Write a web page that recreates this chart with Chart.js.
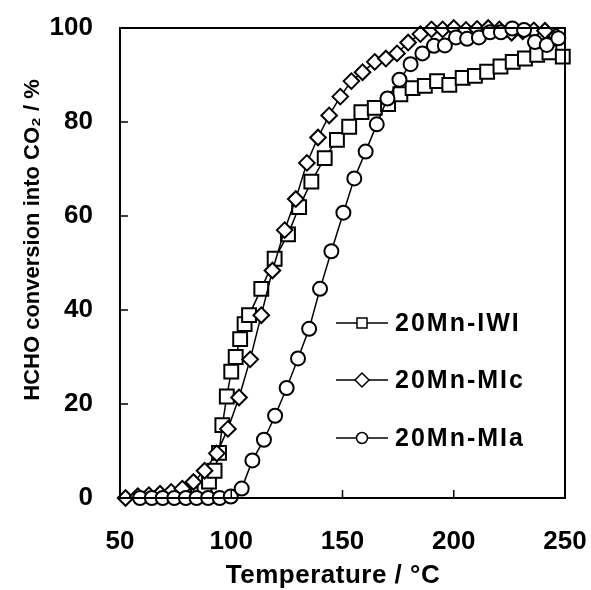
<!DOCTYPE html>
<html>
<head>
<meta charset="utf-8">
<script src="https://cdn.jsdelivr.net/npm/chart.js@4.4.1/dist/chart.umd.min.js"></script>
<style>
  html, body { margin: 0; padding: 0; background: #fff; }
  #wrap { width: 591px; height: 590px; }
</style>
</head>
<body>
<div id="wrap"><canvas id="chart" width="591" height="590"></canvas></div>
<script>
// 20Mn-IWI (squares)
const iwiTemp = [85, 88, 90, 92.5, 94.5, 96, 98, 100, 102, 104, 106, 108, 113.5, 119.5, 125.5, 130.5, 136, 142, 147.5, 153, 158.5, 164.5, 170.5, 176, 181.5, 187, 192.5, 198, 204, 209.5, 215, 221, 226.5, 232, 237.5, 243, 249];
const iwiConv = [0.8, 1.8, 3.5, 5.8, 9.6, 15.5, 21.6, 26.9, 30, 33.8, 37, 38.9, 44.5, 50.9, 56.1, 61.9, 67.3, 72.3, 76.2, 79, 82.1, 83, 83.8, 85.9, 87.2, 87.7, 88.7, 87.9, 89.4, 89.8, 90.7, 91.8, 92.8, 93.5, 94.3, 94.8, 93.9];

// 20Mn-MIc (diamonds)
const micTemp = [52.5, 58, 63, 68, 73, 78, 83, 88, 93.5, 98.5, 103.5, 108.5, 113.5, 118.5, 124, 129, 134, 139, 144, 149, 154, 159, 164.5, 169.5, 174.5, 179.5, 185, 190, 195, 200, 205.5, 210.5, 215.5, 220.5, 226, 231, 236, 241, 246];
const micConv = [0, 0.4, 0.6, 0.9, 1.3, 2, 3.4, 5.8, 9.5, 14.7, 21.4, 29.5, 38.9, 48.4, 57, 63.6, 71.3, 76.7, 81.4, 85.4, 88.7, 90.6, 92.8, 93.5, 94.6, 96.9, 98.7, 99.7, 99.7, 100, 99.6, 99.8, 100, 99.7, 99, 99.3, 99.5, 99.4, 98.3];

// 20Mn-MIa (circles)
const miaTemp = [59, 64.3, 69.2, 74.4, 79.6, 84.4, 89.6, 94.8, 99.8, 104.7, 109.5, 114.7, 119.7, 124.9, 130, 135, 139.9, 145, 150.4, 155.3, 160.4, 165.4, 170.2, 175.6, 180.6, 185.9, 191.1, 196, 201, 206, 211.3, 216.3, 221.2, 226.3, 231.6, 236.5, 241.8, 247];
const miaConv = [0, 0, 0, 0, 0, 0, 0, 0, 0.3, 2, 8, 12.4, 17.5, 23.4, 29.7, 36, 44.5, 52.5, 60.7, 68, 73.7, 79.5, 85, 89, 92.3, 94.6, 96.2, 96.3, 98, 97.7, 98, 99.1, 99.1, 99.9, 99.6, 97, 96.4, 97.8];

const seriesNames = ['20Mn-IWI', '20Mn-MIc', '20Mn-MIa'];
const xTicks = [50, 100, 150, 200, 250];
const yTicks = [0, 20, 40, 60, 80, 100];
const xTitle = 'Temperature / \u00b0C';
const yTitle = 'HCHO conversion into CO\u2082 / %';

const FONT = '"Liberation Sans", Arial, sans-serif';

function pairs(xs, ys) {
    return xs.map((x, i) => ({ x: x, y: ys[i] }));
}

function makeSet(label, xs, ys, style, radius) {
    return {
        label: label,
        data: pairs(xs, ys),
        borderColor: '#000',
        borderWidth: 1.5,
        pointStyle: style,
        pointRadius: radius,
        pointBorderWidth: 2,
        pointBorderColor: '#000',
        pointBackgroundColor: '#fff',
        showLine: true,
        fill: false,
        tension: 0,
        clip: false
    };
}

// inward tick marks, closed frame, axis titles and legend inside the plot
const framePlugin = {
    id: 'frame',
    afterDatasetsDraw(chart) {
        const ctx = chart.ctx;
        const a = chart.chartArea;
        const xs = chart.scales.x;
        const ys = chart.scales.y;
        ctx.save();
        ctx.strokeStyle = '#000';
        ctx.lineWidth = 2;
        ctx.strokeRect(a.left, a.top, a.right - a.left, a.bottom - a.top);

        ctx.lineWidth = 1.5;
        ctx.beginPath();
        xTicks.forEach(v => {
            const px = xs.getPixelForValue(v);
            ctx.moveTo(px, a.bottom);
            ctx.lineTo(px, a.bottom - 8);
        });
        yTicks.forEach(v => {
            const py = ys.getPixelForValue(v);
            ctx.moveTo(a.left, py);
            ctx.lineTo(a.left + 8, py);
        });
        ctx.stroke();

        // axis titles
        ctx.fillStyle = '#000';
        ctx.textAlign = 'center';
        ctx.textBaseline = 'middle';
        ctx.font = 'bold 26px ' + FONT;
        ctx.letterSpacing = '0.5px';
        ctx.fillText(xTitle, 333, 576);
        ctx.letterSpacing = '0px';
        ctx.save();
        ctx.translate(33, 240);
        ctx.rotate(-Math.PI / 2);
        ctx.font = 'bold 22px ' + FONT;
        ctx.fillText(yTitle, 0, 0);
        ctx.restore();

        // legend
        const items = [
            { name: seriesNames[0], shape: 'rect', y: 323 },
            { name: seriesNames[1], shape: 'diamond', y: 380 },
            { name: seriesNames[2], shape: 'circle', y: 438 }
        ];
        ctx.font = 'bold 25px ' + FONT;
        ctx.letterSpacing = '2px';
        ctx.textAlign = 'left';
        items.forEach(it => {
            ctx.lineWidth = 1.5;
            ctx.beginPath();
            ctx.moveTo(336, it.y);
            ctx.lineTo(388, it.y);
            ctx.stroke();
            const cx = 362;
            ctx.fillStyle = '#fff';
            ctx.beginPath();
            if (it.shape === 'rect') {
                ctx.rect(cx - 5, it.y - 5, 10, 10);
            } else if (it.shape === 'diamond') {
                ctx.moveTo(cx - 7, it.y);
                ctx.lineTo(cx, it.y - 7);
                ctx.lineTo(cx + 7, it.y);
                ctx.lineTo(cx, it.y + 7);
                ctx.closePath();
            } else {
                ctx.arc(cx, it.y, 5.5, 0, Math.PI * 2);
            }
            ctx.fill();
            ctx.stroke();
            ctx.fillStyle = '#000';
            ctx.fillText(it.name, 395, it.y + 1);
        });
        ctx.letterSpacing = '0px';
        ctx.restore();
    }
};

new Chart(document.getElementById('chart'), {
    type: 'line',
    data: {
        datasets: [
            makeSet(seriesNames[2], miaTemp, miaConv, 'circle', 7),
            makeSet(seriesNames[1], micTemp, micConv, 'rectRot', 7.8),
            makeSet(seriesNames[0], iwiTemp, iwiConv, 'rect', 9.8)
        ]
    },
    options: {
        responsive: false,
        animation: false,
        layout: { padding: { top: 28, right: 26, left: 0, bottom: 0 } },
        plugins: {
            legend: { display: false },
            tooltip: { enabled: false }
        },
        scales: {
            x: {
                type: 'linear',
                min: 50,
                max: 250,
                afterFit: (scale) => {
                    scale.height = 92;
                    scale.paddingLeft = 0;
                    scale.paddingRight = 0;
                },
                afterBuildTicks: (scale) => { scale.ticks = xTicks.map(v => ({ value: v })); },
                grid: { display: false, drawTicks: false },
                border: { display: true, color: '#000', width: 2 },
                ticks: {
                    color: '#000',
                    padding: 28,
                    font: { family: FONT, size: 26, weight: 'bold' }
                }
            },
            y: {
                min: 0,
                max: 100,
                afterFit: (scale) => {
                    scale.width = 120;
                    scale.paddingTop = 0;
                    scale.paddingBottom = 0;
                },
                afterBuildTicks: (scale) => { scale.ticks = yTicks.map(v => ({ value: v })); },
                grid: { display: false, drawTicks: false },
                border: { display: true, color: '#000', width: 2 },
                ticks: {
                    color: '#000',
                    padding: 27,
                    font: { family: FONT, size: 26, weight: 'bold' }
                }
            }
        }
    },
    plugins: [framePlugin]
});
</script>
</body>
</html>
